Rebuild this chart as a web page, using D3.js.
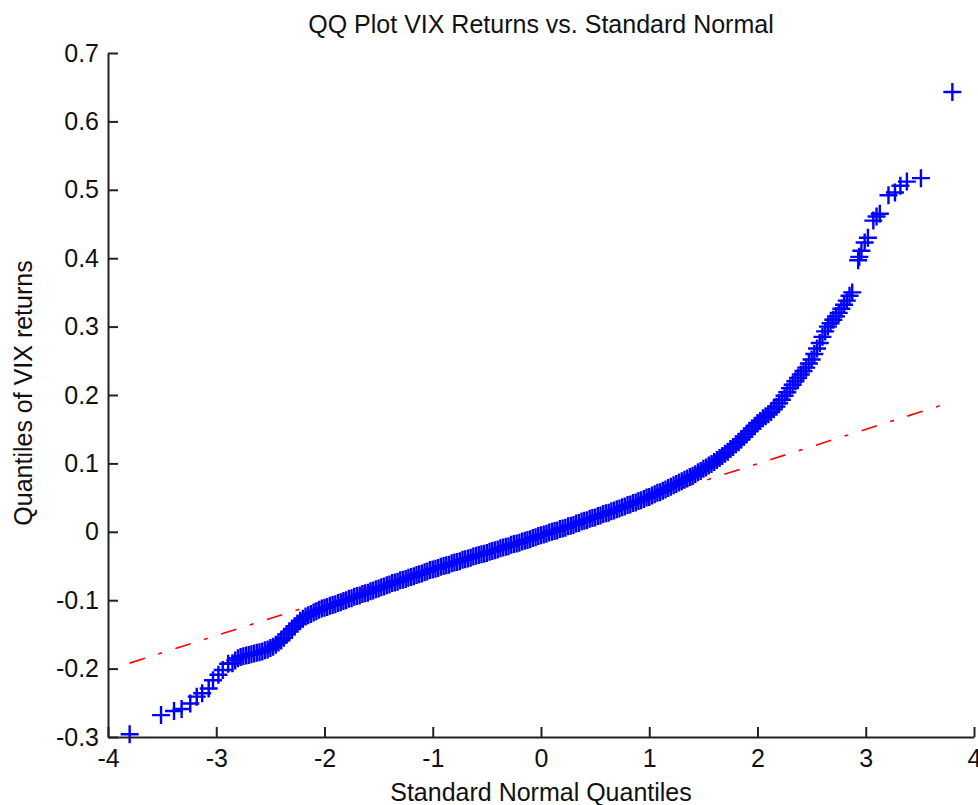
<!DOCTYPE html>
<html>
<head>
<meta charset="utf-8">
<script src="https://cdn.jsdelivr.net/npm/d3@7"></script>
<style>
  html, body { margin: 0; padding: 0; background: #fff; }
  text { font-family: "Liberation Sans", Arial, sans-serif; fill: #111; }
</style>
</head>
<body>
<div id="chart"></div>
<script>
// QQ plot data: [standard normal quantile, VIX return quantile]
const lowTail = [[-3.80, -0.296], [-3.51, -0.268], [-3.39, -0.262], [-3.32, -0.259], [-3.24, -0.251],
  [-3.18, -0.241], [-3.13, -0.236], [-3.07, -0.229], [-3.03, -0.217], [-2.98, -0.209],
  [-2.94, -0.202], [-2.89, -0.193]];

const bandLow = [[-2.850,-0.192],[-2.825,-0.188],[-2.800,-0.185],[-2.775,-0.183],[-2.750,-0.182],
  [-2.725,-0.181],[-2.700,-0.180],[-2.675,-0.179],[-2.650,-0.178],[-2.625,-0.177],[-2.600,-0.176],
  [-2.575,-0.175],[-2.550,-0.173],[-2.525,-0.172],[-2.500,-0.170],[-2.475,-0.168],[-2.450,-0.165],
  [-2.425,-0.162],[-2.400,-0.159],[-2.375,-0.155],[-2.350,-0.150],[-2.325,-0.146],[-2.300,-0.142],
  [-2.275,-0.138],[-2.250,-0.134],[-2.225,-0.130],[-2.200,-0.127],[-2.175,-0.124],[-2.150,-0.122],
  [-2.125,-0.120],[-2.100,-0.118],[-2.075,-0.116],[-2.050,-0.114],[-2.025,-0.112]];

const bandMid = [[-2.000,-0.111],[-1.975,-0.110],[-1.950,-0.108],[-1.925,-0.107],[-1.900,-0.106],
  [-1.875,-0.104],[-1.850,-0.103],[-1.825,-0.101],[-1.800,-0.100],[-1.775,-0.098],[-1.750,-0.097],
  [-1.725,-0.095],[-1.700,-0.094],[-1.675,-0.093],[-1.650,-0.091],[-1.625,-0.090],[-1.600,-0.089],
  [-1.575,-0.087],[-1.550,-0.086],[-1.525,-0.084],[-1.500,-0.083],[-1.475,-0.081],[-1.450,-0.080],
  [-1.425,-0.078],[-1.400,-0.077],[-1.375,-0.075],[-1.350,-0.074],[-1.325,-0.073],[-1.300,-0.071],
  [-1.275,-0.070],[-1.250,-0.069],[-1.225,-0.067],[-1.200,-0.066],[-1.175,-0.065],[-1.150,-0.063],
  [-1.125,-0.062],[-1.100,-0.061],[-1.075,-0.059],[-1.050,-0.058],[-1.025,-0.056],
  [-1.000,-0.055],[-0.975,-0.054],[-0.950,-0.053],[-0.925,-0.051],[-0.900,-0.050],[-0.875,-0.049],
  [-0.850,-0.048],[-0.825,-0.046],[-0.800,-0.045],[-0.775,-0.044],[-0.750,-0.043],[-0.725,-0.041],
  [-0.700,-0.040],[-0.675,-0.039],[-0.650,-0.038],[-0.625,-0.036],[-0.600,-0.035],[-0.575,-0.034],
  [-0.550,-0.033],[-0.525,-0.032],[-0.500,-0.031],[-0.475,-0.029],[-0.450,-0.028],[-0.425,-0.027],
  [-0.400,-0.026],[-0.375,-0.024],[-0.350,-0.023],[-0.325,-0.022],[-0.300,-0.021],[-0.275,-0.019],
  [-0.250,-0.018],[-0.225,-0.017],[-0.200,-0.016],[-0.175,-0.014],[-0.150,-0.013],[-0.125,-0.012],
  [-0.100,-0.011],[-0.075,-0.009],[-0.050,-0.008],[-0.025,-0.006],
  [0.000,-0.005],[0.025,-0.004],[0.050,-0.003],[0.075,-0.001],[0.100,0.000],[0.125,0.001],
  [0.150,0.002],[0.175,0.004],[0.200,0.005],[0.225,0.006],[0.250,0.008],[0.275,0.009],
  [0.300,0.010],[0.325,0.012],[0.350,0.013],[0.375,0.015],[0.400,0.016],[0.425,0.017],
  [0.450,0.019],[0.475,0.020],[0.500,0.021],[0.525,0.023],[0.550,0.024],[0.575,0.026],
  [0.600,0.027],[0.625,0.028],[0.650,0.030],[0.675,0.031],[0.700,0.033],[0.725,0.034],
  [0.750,0.036],[0.775,0.037],[0.800,0.039],[0.825,0.040],[0.850,0.042],[0.875,0.043],
  [0.900,0.045],[0.925,0.046],[0.950,0.048],[0.975,0.050]];

const bandHigh = [[1.000,0.051],[1.025,0.053],[1.050,0.055],[1.075,0.057],[1.100,0.058],
  [1.125,0.060],[1.150,0.062],[1.175,0.064],[1.200,0.066],[1.225,0.068],[1.250,0.070],
  [1.275,0.072],[1.300,0.074],[1.325,0.076],[1.350,0.078],[1.375,0.080],[1.400,0.082],
  [1.425,0.084],[1.450,0.087],[1.475,0.089],[1.500,0.092],[1.525,0.094],[1.550,0.097],
  [1.575,0.099],[1.600,0.102],[1.625,0.105],[1.650,0.108],[1.675,0.111],[1.700,0.114],
  [1.725,0.117],[1.750,0.121],[1.775,0.124],[1.800,0.128],[1.825,0.131],[1.850,0.135],
  [1.875,0.139],[1.900,0.143],[1.925,0.147],[1.950,0.151],[1.975,0.155],[2.000,0.159],
  [2.025,0.162],[2.050,0.166],[2.075,0.169],[2.100,0.172],[2.125,0.175],[2.150,0.179],
  [2.175,0.183],[2.200,0.188],[2.225,0.193],[2.250,0.199],[2.275,0.204],[2.300,0.210],
  [2.325,0.215],[2.350,0.220],[2.375,0.225],[2.400,0.230],[2.425,0.235],[2.450,0.240],
  [2.475,0.246],[2.500,0.252],[2.525,0.260],[2.550,0.268],[2.575,0.276],[2.600,0.285],
  [2.625,0.293],[2.650,0.300],[2.675,0.305],[2.700,0.310],[2.725,0.315],[2.750,0.320],
  [2.775,0.326],[2.800,0.332],[2.825,0.338],[2.850,0.345],[2.875,0.350]];

const highTail = [[2.93, 0.397], [2.94, 0.402], [2.96, 0.411], [2.99, 0.423], [3.02, 0.430],
  [3.07, 0.455], [3.10, 0.461], [3.13, 0.465], [3.21, 0.492], [3.27, 0.496], [3.32, 0.506],
  [3.38, 0.512], [3.51, 0.517], [3.80, 0.643]];

// reference line through the quartiles (red dash-dot)
const refLine = [[-3.80, -0.192], [3.80, 0.190]];

const xTicks = [-4, -3, -2, -1, 0, 1, 2, 3, 4];
const yTicks = [-0.3, -0.2, -0.1, 0, 0.1, 0.2, 0.3, 0.4, 0.5, 0.6, 0.7];

const titleText = "QQ Plot VIX Returns vs. Standard Normal";
const xLabel = "Standard Normal Quantiles";
const yLabel = "Quantiles of VIX returns";

const width = 978, height = 805;
const plotLeft = 108, plotRight = 974, plotTop = 53, plotBottom = 737;

const svg = d3.select("#chart").append("svg")
    .attr("width", width)
    .attr("height", height);

const x = d3.scaleLinear().domain([-4, 4]).range([plotLeft, plotRight]);
const y = d3.scaleLinear().domain([-0.3, 0.7]).range([plotBottom, plotTop]);

const points = [].concat(lowTail, bandLow, bandMid, bandHigh, highTail);

// red reference line first, markers drawn over it
const line = d3.line()
    .x(d => x(d[0]))
    .y(d => y(d[1]));

svg.append("path")
    .datum(refLine)
    .attr("d", line)
    .attr("fill", "none")
    .attr("stroke", "#ff0000")
    .attr("stroke-width", 1.6)
    .attr("stroke-dasharray", "16,14,4,14");

const m = 9; // half size of the plus marker
svg.append("g")
    .selectAll("path")
    .data(points)
    .enter()
    .append("path")
    .attr("d", d => {
        const cx = x(d[0]), cy = y(d[1]);
        return "M" + (cx - m) + "," + cy + "H" + (cx + m) + "M" + cx + "," + (cy - m) + "V" + (cy + m);
    })
    .attr("stroke", "#0000ff")
    .attr("stroke-width", 2.4)
    .attr("fill", "none");

// axes (left and bottom only, ticks pointing inwards)
const xAxis = svg.append("g")
    .attr("transform", "translate(0," + plotBottom + ")")
    .call(d3.axisBottom(x).tickValues(xTicks).tickSizeInner(-10).tickSizeOuter(0)
        .tickPadding(12).tickFormat(d => String(d)));

const yAxis = svg.append("g")
    .attr("transform", "translate(" + plotLeft + ",0)")
    .call(d3.axisLeft(y).tickValues(yTicks).tickSizeInner(-10).tickSizeOuter(0)
        .tickPadding(9).tickFormat(d => String(+d.toFixed(1))));

[xAxis, yAxis].forEach(a => {
    a.select(".domain").attr("stroke", "#222").attr("stroke-width", 2);
    a.selectAll(".tick line").attr("stroke", "#222").attr("stroke-width", 2);
    a.selectAll(".tick text")
        .attr("font-size", 25)
        .attr("font-family", "Liberation Sans, Arial, sans-serif")
        .attr("fill", "#111");
});

// title and labels
svg.append("text")
    .attr("x", (plotLeft + plotRight) / 2)
    .attr("y", 33)
    .attr("text-anchor", "middle")
    .attr("font-size", 25)
    .text(titleText);

svg.append("text")
    .attr("x", (plotLeft + plotRight) / 2)
    .attr("y", 801)
    .attr("text-anchor", "middle")
    .attr("font-size", 25)
    .text(xLabel);

svg.append("text")
    .attr("transform", "translate(32," + 393 + ") rotate(-90)")
    .attr("text-anchor", "middle")
    .attr("font-size", 25)
    .text(yLabel);
</script>
</body>
</html>
